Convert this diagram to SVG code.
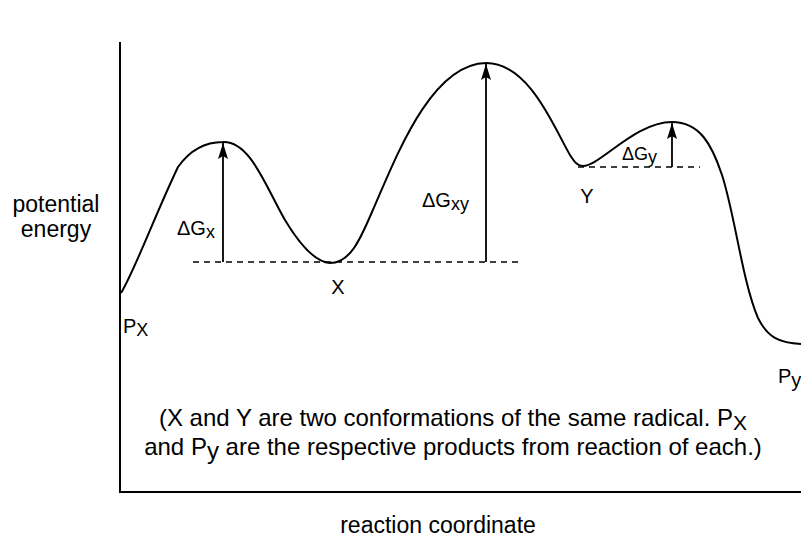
<svg xmlns="http://www.w3.org/2000/svg" width="801" height="539" viewBox="0 0 801 539">
<defs>
<style>
text{font-family:"Liberation Sans",Arial,sans-serif;fill:#000;font-size:20px}
.big{font-size:23px}
.note{font-size:24px}
.sm{font-size:18px}
.sub{font-size:18px}
.axis{stroke:#000;stroke-width:2;fill:none}
.curve{stroke:#000;stroke-width:2;fill:none;stroke-linejoin:round}
.dash{stroke:#000;stroke-width:1.3;stroke-dasharray:6 5;fill:none}
.arr{stroke:#000;stroke-width:1.8;fill:none}
</style>
<marker id="ahl" viewBox="0 0 16 10" refX="16" refY="5" markerWidth="16" markerHeight="10" markerUnits="userSpaceOnUse" orient="auto">
<path d="M0,0 L16,5 L0,10 L3,5 Z" fill="#000"/>
</marker>
</defs>
<g id="axes">
<path class="axis" d="M120,42 V492 H801"/>
</g>
<g id="curve">
<path class="curve" d="M121,293 C135,270 155,215 178,167 C190,150 205,142 223,142 C250,141 265,185 285,220 C300,245 315,262 330,263 C350,263 360,240 372,212 C395,160 430,64 486,63 C530,63 555,130 570,155 C575,163 578,166 583,166 C600,166 635,122 672,122 C700,122 712,145 722,175 C735,215 742,280 758,318 C768,338 780,343 801,344"/>
</g>
<g id="connectors">
<line class="dash" x1="193" y1="262" x2="520" y2="262"/>
<line class="dash" x1="578" y1="167" x2="700" y2="167"/>
<line class="arr" x1="223" y1="262" x2="223" y2="143" marker-end="url(#ahl)"/>
<line class="arr" x1="486" y1="262" x2="486" y2="64" marker-end="url(#ahl)"/>
<line class="arr" x1="672" y1="167" x2="672" y2="123" marker-end="url(#ahl)"/>
</g>
<g id="label-axis-y">
<text class="big" x="56" y="212" text-anchor="middle">potential</text>
<text class="big" x="56" y="237" text-anchor="middle">energy</text>
</g>
<g id="label-axis-x">
<text class="big" x="438" y="533" text-anchor="middle">reaction coordinate</text>
</g>
<g id="node-dGx"><text x="177" y="235">ΔG<tspan class="sub" dy="3">x</tspan></text></g>
<g id="node-dGxy"><text x="422" y="207">ΔG<tspan class="sub" dy="3">xy</tspan></text></g>
<g id="node-dGy"><text class="sm" x="622" y="160">ΔG<tspan class="sub" font-size="17" dy="3">y</tspan></text></g>
<g id="node-X"><text x="338" y="294" text-anchor="middle">X</text></g>
<g id="node-Y"><text x="587" y="203" text-anchor="middle">Y</text></g>
<g id="node-Px"><text x="123" y="333">P<tspan dy="3" class="sub">X</tspan></text></g>
<g id="node-Py"><text x="778" y="383">P<tspan dy="4">y</tspan></text></g>
<g id="note">
<text class="note" x="453" y="426" text-anchor="middle">(X and Y are two conformations of the same radical. P<tspan dy="4" font-size="21">X</tspan></text>
<text class="note" x="453" y="455" text-anchor="middle">and P<tspan dy="4">y</tspan><tspan dy="-4"> are the respective products from reaction of each.)</tspan></text>
</g>
</svg>
